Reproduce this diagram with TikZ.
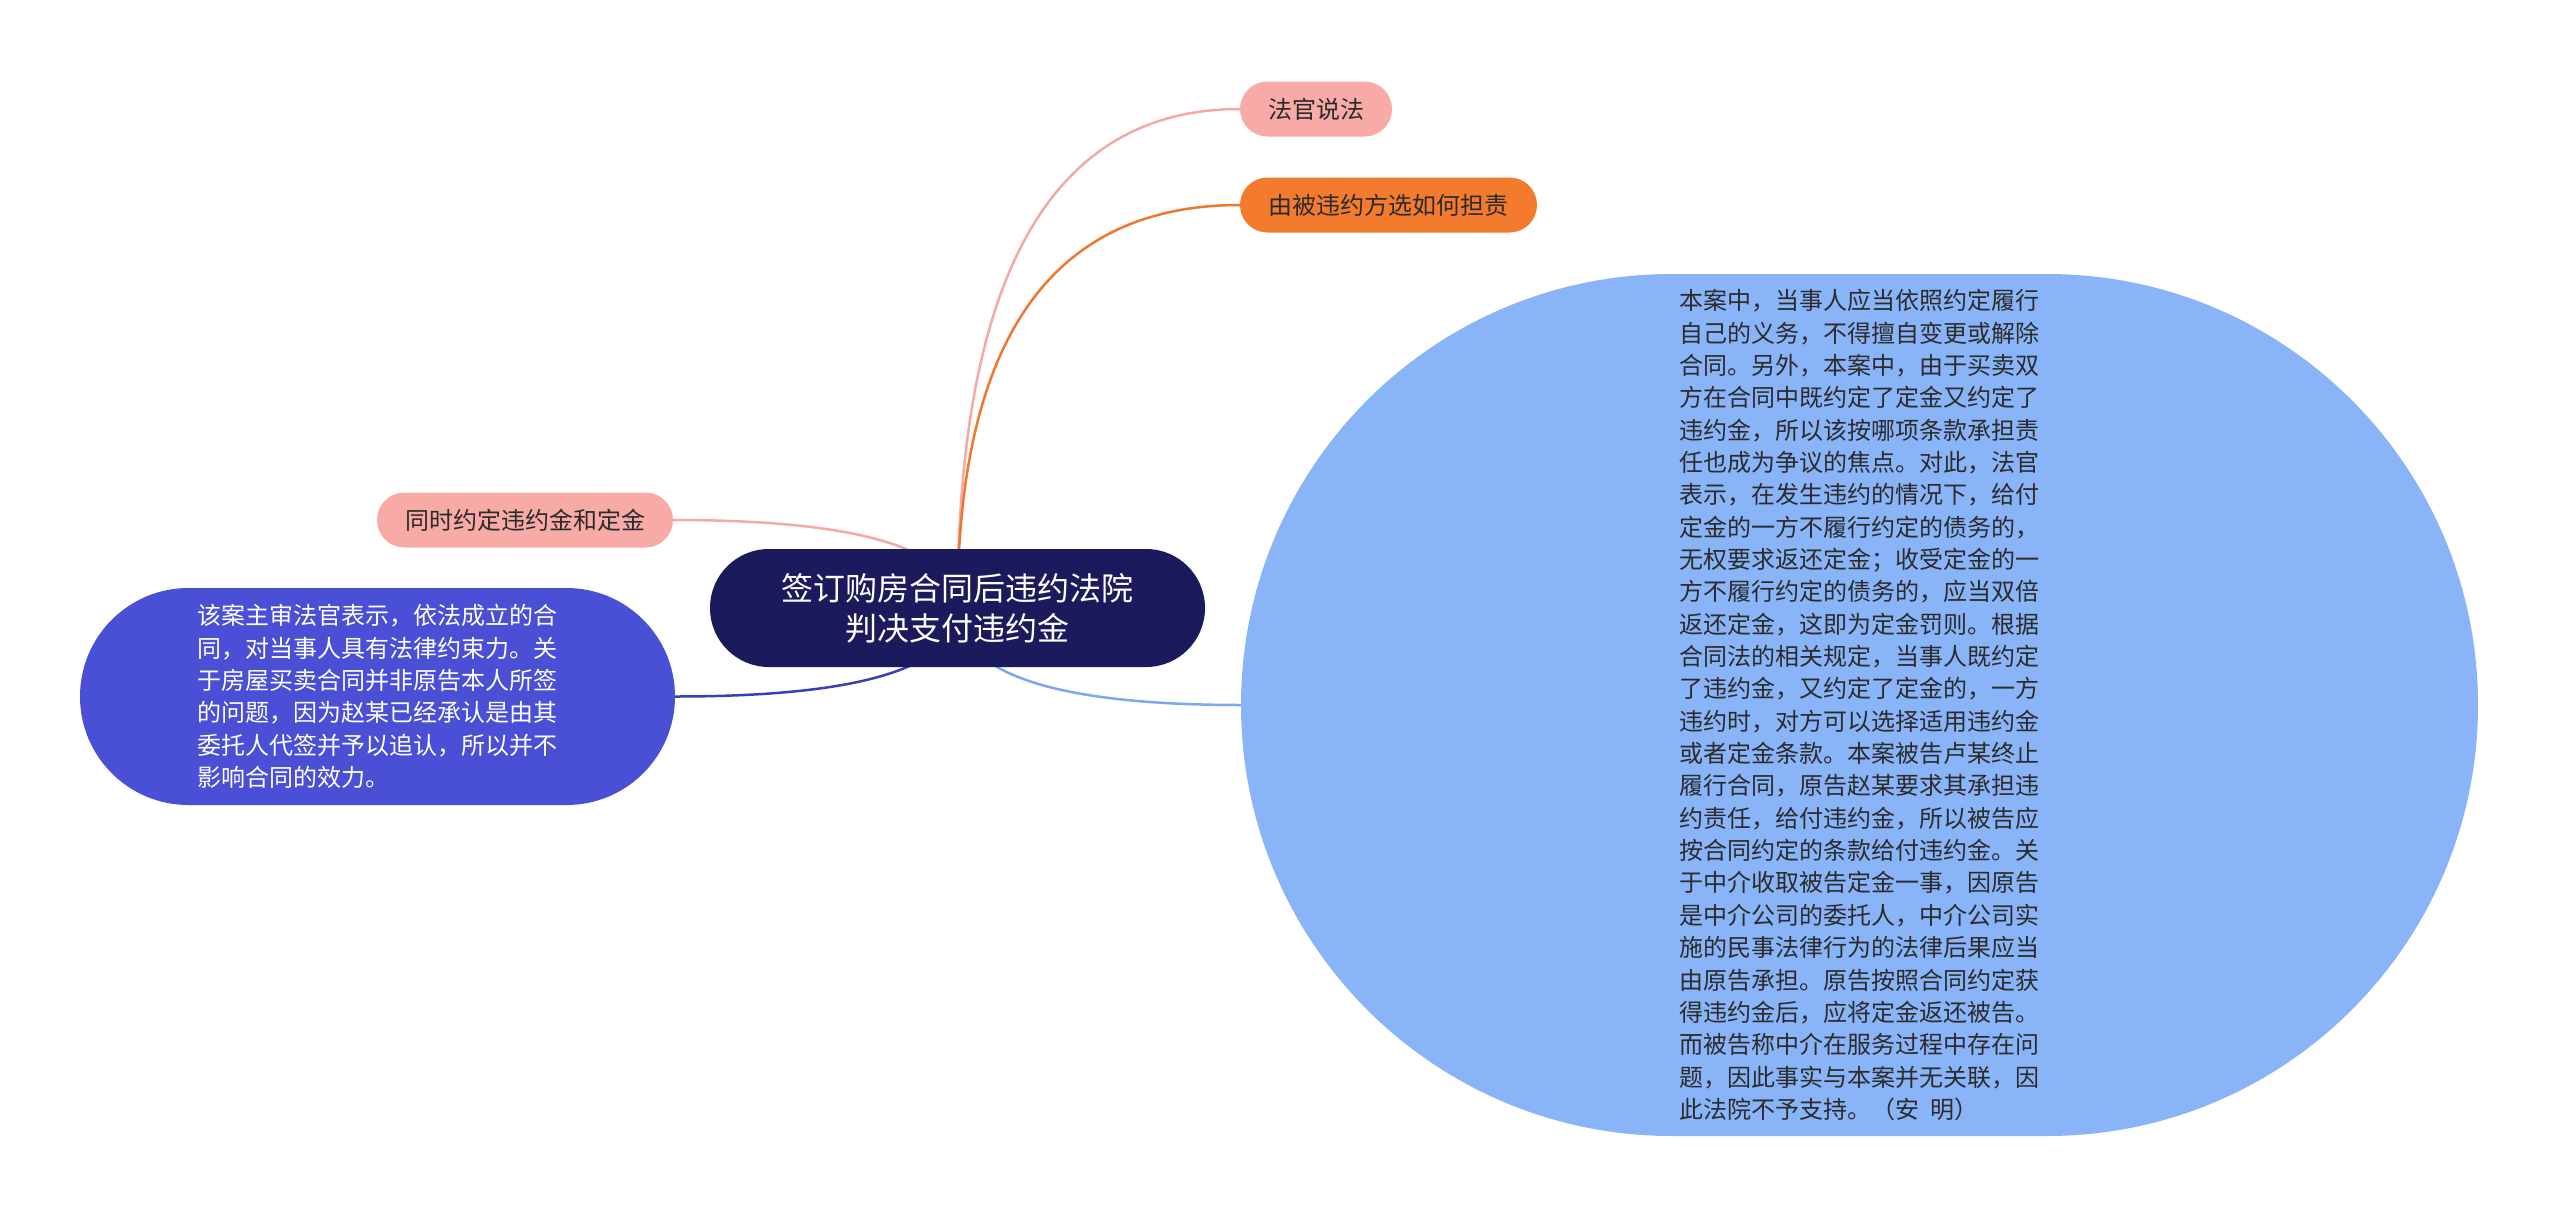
\documentclass[tikz,border=0pt]{standalone}
\usepackage{fontspec}
\setmainfont{Noto Sans CJK SC}
\usetikzlibrary{calc, backgrounds}

\definecolor{rootnavy}{HTML}{1B1A5C}
\definecolor{petal}{HTML}{F8AAA7}
\definecolor{petalline}{HTML}{F4A9A6}
\definecolor{tangerine}{HTML}{F47B2E}
\definecolor{tangerineline}{HTML}{EE7830}
\definecolor{iris}{HTML}{4A50D5}
\definecolor{irisline}{HTML}{3A3FB6}
\definecolor{sky}{HTML}{8AB4F8}
\definecolor{skyline}{HTML}{7DA7EE}
\definecolor{inkgray}{HTML}{2B2B2B}

\begin{document}
\begin{tikzpicture}[x=1pt, y=-1pt,
  topic/.style={rectangle, inner sep=0pt, align=center, text=inkgray, minimum height=55pt, rounded corners=27.4pt, font=\fontsize{24}{30}\selectfont},
  note/.style={rectangle, inner sep=0pt, align=left, font=\fontsize{24}{32.35}\selectfont},
  link/.style={draw, line width=2.5pt}]
  \node [rectangle, fill=rootnavy, text=white, inner sep=0pt, align=center, minimum width=495pt, minimum height=118pt, rounded corners=58.9pt, font=\fontsize{32}{40}\selectfont] (root) at (957.5,608) {签订购房合同后违约法院\\判决支付违约金};
  \node [topic, fill=petal, minimum width=152pt] (judge) at (1316,109) {法官说法};
  \node [topic, fill=tangerine, minimum width=297pt] (liability) at (1388.5,205) {由被违约方选如何担责};
  \node [topic, fill=petal, minimum width=296pt] (both) at (525,520) {同时约定违约金和定金};
  \node [note, fill=iris, text=white, minimum width=595pt, minimum height=217pt, rounded corners=108.4pt] (validity) at (377.5,696.5) {该案主审法官表示，依法成立的合\\
同，对当事人具有法律约束力。关\\
于房屋买卖合同并非原告本人所签\\
的问题，因为赵某已经承认是由其\\
委托人代签并予以追认，所以并不\\
影响合同的效力。};
  \node [note, fill=sky, text=inkgray, minimum width=1237pt, minimum height=862pt, rounded corners=430.9pt] (ruling) at (1859.5,705) {本案中，当事人应当依照约定履行\\
自己的义务，不得擅自变更或解除\\
合同。另外，本案中，由于买卖双\\
方在合同中既约定了定金又约定了\\
违约金，所以该按哪项条款承担责\\
任也成为争议的焦点。对此，法官\\
表示，在发生违约的情况下，给付\\
定金的一方不履行约定的债务的，\\
无权要求返还定金；收受定金的一\\
方不履行约定的债务的，应当双倍\\
返还定金，这即为定金罚则。根据\\
合同法的相关规定，当事人既约定\\
了违约金，又约定了定金的，一方\\
违约时，对方可以选择适用违约金\\
或者定金条款。本案被告卢某终止\\
履行合同，原告赵某要求其承担违\\
约责任，给付违约金，所以被告应\\
按合同约定的条款给付违约金。关\\
于中介收取被告定金一事，因原告\\
是中介公司的委托人，中介公司实\\
施的民事法律行为的法律后果应当\\
由原告承担。原告按照合同约定获\\
得违约金后，应将定金返还被告。\\
而被告称中介在服务过程中存在问\\
题，因此事实与本案并无关联，因\\
此法院不予支持。（安~~明）};
  % branches run from the centre of the root, under it
  \begin{scope}[on background layer]
    \fill [white] (0,0) rectangle (2560,1218);
    \draw [link, petalline] (root.center) .. controls ($(root.center)!0.667!(root.center |- judge.west)$) and ($(judge.west)!0.667!(root.center |- judge.west)$) .. (judge.west);
    \draw [link, tangerineline] (root.center) .. controls ($(root.center)!0.667!(root.center |- liability.west)$) and ($(liability.west)!0.667!(root.center |- liability.west)$) .. (liability.west);
    \draw [link, petalline] (root.center) .. controls ($(root.center)!0.667!(root.center |- both.east)$) and ($(both.east)!0.667!(root.center |- both.east)$) .. (both.east);
    \draw [link, irisline] (root.center) .. controls ($(root.center)!0.667!(root.center |- validity.east)$) and ($(validity.east)!0.667!(root.center |- validity.east)$) .. (validity.east);
    \draw [link, skyline] (root.center) .. controls ($(root.center)!0.667!(root.center |- ruling.west)$) and ($(ruling.west)!0.667!(root.center |- ruling.west)$) .. (ruling.west);
  \end{scope}
\end{tikzpicture}
\end{document}
